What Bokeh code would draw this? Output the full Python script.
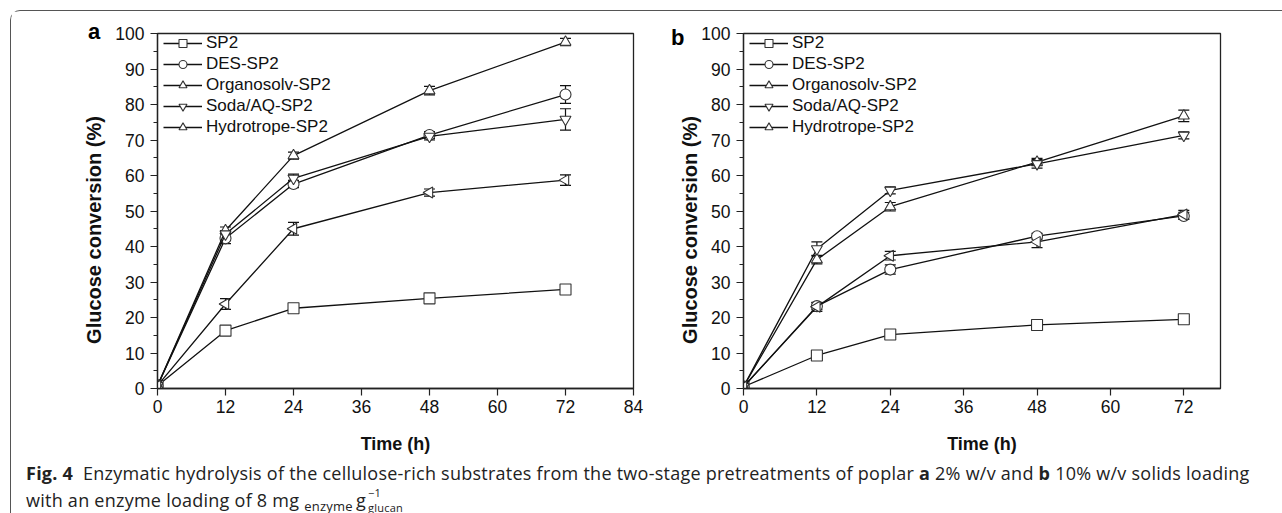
import numpy as np
from bokeh.plotting import figure
from bokeh.models import (ColumnDataSource, Whisker, TeeHead, FixedTicker, Range1d,
                          Div, Legend)
from bokeh.layouts import row, column
from bokeh.embed import file_html
from bokeh.resources import INLINE

# ---------------- data ----------------
time_h = [0, 12, 24, 48, 72]
series_names = ["SP2", "DES-SP2", "Organosolv-SP2", "Soda/AQ-SP2", "Hydrotrope-SP2"]

# panel a: 2% w/v solids loading
sp2_a = [0.8, 16.3, 22.6, 25.4, 27.9]
sp2_a_err = [0.3, 1.0, 0.8, 0.7, 0.8]
des_a = [0.8, 42.3, 57.6, 71.4, 82.8]
des_a_err = [0.3, 1.5, 1.0, 1.0, 2.5]
org_a = [0.8, 44.5, 65.6, 83.9, 97.6]
org_a_err = [0.3, 1.0, 1.0, 1.2, 1.0]
soda_a = [0.8, 43.5, 59.2, 71.0, 75.8]
soda_a_err = [0.3, 1.0, 1.2, 1.0, 3.0]
hyd_a = [0.8, 23.8, 45.0, 55.2, 58.7]
hyd_a_err = [0.3, 1.5, 1.8, 1.0, 1.5]

# panel b: 10% w/v solids loading
sp2_b = [0.5, 9.3, 15.2, 17.9, 19.5]
sp2_b_err = [0.2, 0.8, 0.8, 0.8, 0.8]
des_b = [0.5, 23.2, 33.5, 42.9, 48.6]
des_b_err = [0.2, 1.0, 1.3, 0.8, 1.0]
org_b = [0.5, 36.3, 51.2, 63.8, 76.8]
org_b_err = [0.2, 1.2, 1.2, 1.0, 1.6]
soda_b = [0.5, 39.3, 55.8, 63.3, 71.3]
soda_b_err = [0.2, 2.0, 1.0, 1.2, 1.0]
hyd_b = [0.5, 23.0, 37.4, 41.3, 49.0]
hyd_b_err = [0.2, 1.3, 1.2, 1.6, 1.2]

x_ticks_a = [0, 12, 24, 36, 48, 60, 72, 84]
x_ticks_b = [0, 12, 24, 36, 48, 60, 72]
y_ticks = [0, 10, 20, 30, 40, 50, 60, 70, 80, 90, 100]
y_minor = [5, 15, 25, 35, 45, 55, 65, 75, 85, 95]
y_title = "Glucose conversion (%)"

markers = ["square", "circle", "triangle", "inverted_triangle", "triangle"]
angles = [0, 0, 0, 0, np.pi / 2]

FONT = "Liberation Sans"


def make_panel(series, errs, xmax, xticks, fw, ml, mr):
    p = figure(frame_width=fw, frame_height=355,
               min_border_left=ml, min_border_right=mr, min_border_top=22, min_border_bottom=67,
               x_range=Range1d(0, xmax), y_range=Range1d(0, 100),
               output_backend="svg", toolbar_location=None)
    p.xgrid.visible = False
    p.ygrid.visible = False
    p.outline_line_color = "#222222"
    p.outline_line_width = 1.3
    p.background_fill_color = "white"
    p.border_fill_color = "white"

    for ax in (p.xaxis, p.yaxis):
        ax.axis_line_color = "#222222"
        ax.axis_line_width = 1.3
        ax.major_tick_line_color = "#222222"
        ax.minor_tick_line_color = "#222222"
        ax.major_tick_line_width = 1.2
        ax.minor_tick_line_width = 1.2
        ax.major_tick_out = 7
        ax.major_tick_in = 0
        ax.minor_tick_out = 4
        ax.minor_tick_in = 0
        ax.major_label_text_font = FONT
        ax.major_label_text_font_size = "17.5px"
        ax.major_label_text_color = "#111111"
        ax.axis_label_text_font = FONT
        ax.axis_label_text_font_style = "bold"
        ax.axis_label_text_color = "#111111"
    p.xaxis.ticker = FixedTicker(ticks=xticks, minor_ticks=[])
    p.yaxis.ticker = FixedTicker(ticks=y_ticks, minor_ticks=y_minor)
    p.xaxis.major_label_standoff = 4
    p.yaxis.major_label_standoff = 6
    p.xaxis.axis_label = "Time (h)"
    p.xaxis.axis_label_text_font_size = "18px"
    p.xaxis.axis_label_standoff = 18

    items = []
    for name, ys, es, mk, ang in zip(series_names, series, errs, markers, angles):
        src = ColumnDataSource(dict(x=time_h, y=ys,
                                    lo=[a - b for a, b in zip(ys, es)],
                                    hi=[a + b for a, b in zip(ys, es)]))
        ln = p.line("x", "y", source=src, line_color="#111111", line_width=1.3)
        w = Whisker(base="x", lower="lo", upper="hi", source=src,
                    line_color="#111111", line_width=1.2,
                    upper_head=TeeHead(size=11, line_color="#111111", line_width=1.2),
                    lower_head=TeeHead(size=11, line_color="#111111", line_width=1.2))
        p.add_layout(w)
        sc = p.scatter("x", "y", source=src, marker=mk, angle=ang, size=11,
                       fill_color="white", line_color="#333333", line_width=1.1)
        items.append((name, [ln, sc]))

    leg = Legend(items=items, location=(6, 251), margin=0, padding=0, spacing=1,
                 glyph_width=39, glyph_height=20, label_height=20, label_standoff=4,
                 label_text_font=FONT, label_text_font_size="17px",
                 label_text_color="#111111", border_line_color=None,
                 background_fill_alpha=0)
    p.add_layout(leg)
    return p


pa = make_panel([sp2_a, des_a, org_a, soda_a, hyd_a],
                [sp2_a_err, des_a_err, org_a_err, soda_a_err, hyd_a_err],
                84, x_ticks_a, 476, 146, 37)
pb = make_panel([sp2_b, des_b, org_b, soda_b, hyd_b],
                [sp2_b_err, des_b_err, org_b_err, soda_b_err, hyd_b_err],
                78, x_ticks_b, 477, 73, 62)

letter_css = ("position:absolute;font-family:'Liberation Sans';font-weight:bold;"
              "font-size:22px;line-height:22px;color:#000;letter-spacing:0;")
ytitle_css = ("position:absolute;width:300px;text-align:center;font-family:'Liberation Sans';"
              "font-weight:bold;font-size:20px;line-height:24px;color:#111;letter-spacing:0;"
              "transform:rotate(-90deg);top:-243px;")
caption_html = (
    '<div style="position:relative;left:10px;font-family:\'Open Sans\';font-size:18px;'
    'line-height:24px;color:#222;white-space:nowrap;letter-spacing:0.25px;">'
    f'<span style="{letter_css}left:62px;top:-440px;">a</span>'
    f'<span style="{letter_css}left:645px;top:-434px;">b</span>'
    f'<span style="{ytitle_css}left:-82px;">{y_title}</span>'
    f'<span style="{ytitle_css}left:514px;">{y_title}</span>'
    '<b>Fig.&nbsp;4</b>&nbsp; Enzymatic hydrolysis of the cellulose-rich substrates from the '
    'two-stage pretreatments of poplar <b>a</b> 2% w/v and <b>b</b> 10% w/v solids loading<br>'
    'with an enzyme loading of 8 mg <span style="font-size:13px;line-height:13px;'
    'vertical-align:-4px;margin-right:3px">enzyme</span>'
    'g<span style="display:inline-block;vertical-align:-5px;line-height:15px;font-size:11px;'
    'margin-left:2px;text-align:left;"><span style="display:block">&minus;1</span>'
    '<span style="display:block">glucan</span></span></div>'
)
caption = Div(text=caption_html, width=1271, height=55)

layout = column(row(pa, pb), caption,
                styles={"border-top": "1px solid #555", "border-left": "1px solid #555",
                        "border-bottom": "1px solid #555",
                        "border-radius": "10px 0 0 10px",
                        "margin-left": "10px", "margin-top": "10px"})

open("out.html", "w").write(file_html(layout, INLINE))
